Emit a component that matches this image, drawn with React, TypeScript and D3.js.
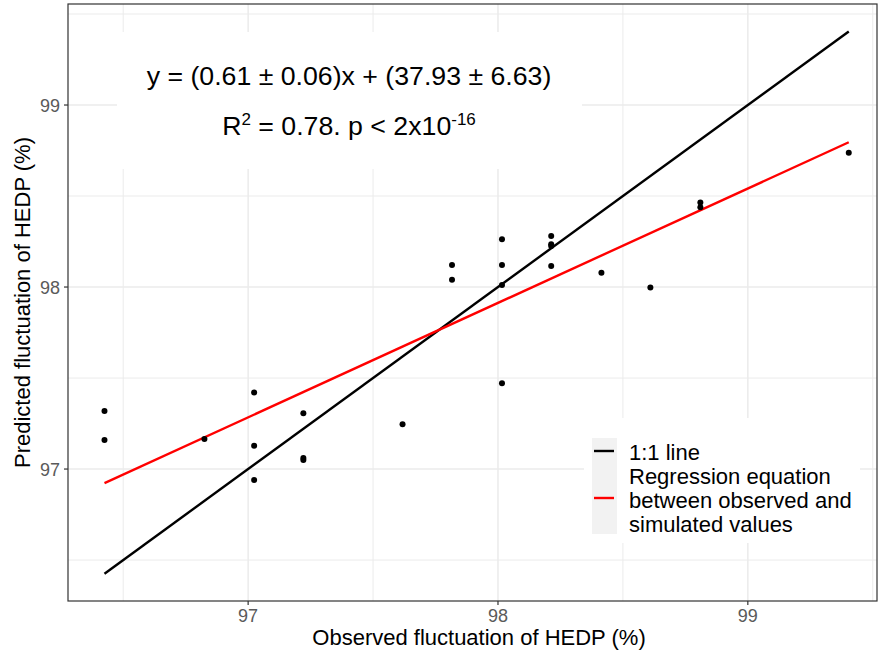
import React from "react";
import * as d3 from "d3";

const observed = [96.425, 96.425, 96.825, 97.024, 97.024, 97.024, 97.221, 97.221, 97.221, 97.618, 97.816, 97.816, 98.016, 98.016, 98.016, 98.016, 98.213, 98.213, 98.213, 98.213, 98.414, 98.61, 98.81, 98.81, 99.404];
const predicted = [97.319, 97.159, 97.165, 97.421, 97.128, 96.94, 97.306, 97.06, 97.05, 97.246, 98.121, 98.04, 98.262, 98.121, 98.011, 97.471, 98.28, 98.235, 98.225, 98.115, 98.079, 97.998, 98.465, 98.438, 98.738];
const regSlope = 0.6286;
const regIntercept = 36.31;
const xTicks = [97, 98, 99];
const yTicks = [97, 98, 99];
const xMinor = [96.5, 97.5, 98.5, 99.5];
const yMinor = [96.5, 97.5, 98.5, 99.5];
const legendLabels = ["1:1 line", "Regression equation", "between observed and", "simulated values"];

const W = 878, H = 657;
const panel = { left: 68, top: 4, right: 877, bottom: 601 };
const FONT = "'Liberation Sans', Arial, sans-serif";

export default function App() {
  const x = d3.scaleLinear().domain([96.279, 99.517]).range([panel.left, panel.right]);
  const y = d3.scaleLinear().domain([96.275, 99.555]).range([panel.bottom, panel.top]);
  const xr = d3.extent(observed) as [number, number];
  const line = d3.line<[number, number]>().x(d => x(d[0])).y(d => y(d[1]));
  const oneToOne = line([[xr[0], xr[0]], [xr[1], xr[1]]]) || "";
  const regLine = line([[xr[0], regSlope * xr[0] + regIntercept], [xr[1], regSlope * xr[1] + regIntercept]]) || "";
  const grid = "#EBEBEB";
  return (
    <svg width={W} height={H} style={{ position: "absolute", left: 0, top: 0, background: "#fff" }} fontFamily={FONT}>
      <rect x={0} y={0} width={W} height={H} fill="#fff" />
      <defs>
        <clipPath id="pc"><rect x={panel.left} y={panel.top} width={panel.right - panel.left} height={panel.bottom - panel.top} /></clipPath>
      </defs>
      <g clipPath="url(#pc)">
        {xMinor.map(v => <line key={"xm" + v} x1={x(v)} x2={x(v)} y1={panel.top} y2={panel.bottom} stroke={grid} strokeWidth={1} />)}
        {yMinor.map(v => <line key={"ym" + v} y1={y(v)} y2={y(v)} x1={panel.left} x2={panel.right} stroke={grid} strokeWidth={1} />)}
        {xTicks.map(v => <line key={"xg" + v} x1={x(v)} x2={x(v)} y1={panel.top} y2={panel.bottom} stroke={grid} strokeWidth={1.5} />)}
        {yTicks.map(v => <line key={"yg" + v} y1={y(v)} y2={y(v)} x1={panel.left} x2={panel.right} stroke={grid} strokeWidth={1.5} />)}
        <path d={oneToOne} stroke="#000" strokeWidth={2.4} fill="none" />
        <path d={regLine} stroke="#FF0000" strokeWidth={2.4} fill="none" />
        {observed.map((o, i) => <circle key={i} cx={x(o)} cy={y(predicted[i])} r={3} fill="#000" />)}
        {/* annotation */}
        <rect x={117} y={32} width={465} height={137} fill="#fff" />
        <text x={349} y={85} fontSize={26.7} textAnchor="middle" fill="#000">y = (0.61 ± 0.06)x + (37.93 ± 6.63)</text>
        <text x={349} y={135} fontSize={26.7} textAnchor="middle" fill="#000">
          R<tspan fontSize={17} dy={-10}>2</tspan><tspan dy={10}> = 0.78. p &lt; 2x10</tspan><tspan fontSize={17} dy={-10}>-16</tspan>
        </text>
        {/* legend */}
        <rect x={584} y={418} width={276} height={125} fill="#fff" />
        <rect x={592} y={438} width={25} height={96} fill="#F2F2F2" />
        <line x1={594} x2={614} y1={451} y2={451} stroke="#000" strokeWidth={2.4} />
        <line x1={594} x2={614} y1={498} y2={498} stroke="#FF0000" strokeWidth={2.4} />
        {legendLabels.map((t, i) => <text key={t} x={629} y={460 + i * 24} fontSize={22} fill="#000">{t}</text>)}
      </g>
      <rect x={panel.left} y={panel.top} width={panel.right - panel.left} height={panel.bottom - panel.top} fill="none" stroke="#333" strokeWidth={1.2} />
      {xTicks.map(v => (
        <g key={"xt" + v}>
          <line x1={x(v)} x2={x(v)} y1={panel.bottom} y2={panel.bottom + 4} stroke="#333" strokeWidth={1.2} />
          <text x={x(v)} y={622} fontSize={18} textAnchor="middle" fill="#5A5A5A">{v}</text>
        </g>
      ))}
      {yTicks.map(v => (
        <g key={"yt" + v}>
          <line x1={panel.left - 4} x2={panel.left} y1={y(v)} y2={y(v)} stroke="#333" strokeWidth={1.2} />
          <text x={60} y={y(v) + 6.5} fontSize={18} textAnchor="end" fill="#5A5A5A">{v}</text>
        </g>
      ))}
      <text x={479} y={645} fontSize={22} textAnchor="middle" fill="#000">Observed fluctuation of HEDP (%)</text>
      <text transform={`translate(30,${(panel.top + panel.bottom) / 2}) rotate(-90)`} fontSize={22} textAnchor="middle" fill="#000">Predicted fluctuation of HEDP (%)</text>
    </svg>
  );
}
